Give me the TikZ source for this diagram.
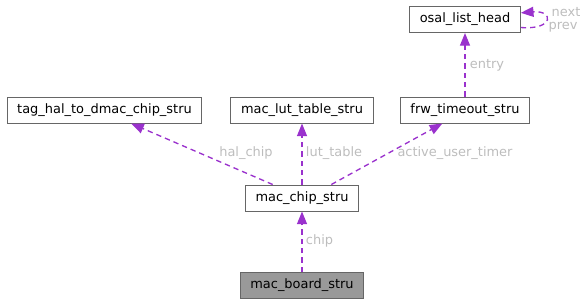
\documentclass[tikz,border=0pt]{standalone}
\usepackage{fontspec}
\setmainfont{DejaVu Sans}
\usetikzlibrary{arrows.meta}

\definecolor{edgepurple}{HTML}{9A32CD}
\definecolor{boxline}{HTML}{666666}
\definecolor{labelgray}{HTML}{BDBDBD}

\tikzset{
  structbox/.style={draw=boxline, line width=0.75pt, fill=white, inner xsep=7.6pt,
    minimum height=19.5pt, font=\fontsize{9.7pt}{11pt}\selectfont},
  edge/.style={edgepurple, line width=1pt, dash pattern=on 4pt off 3pt,
    -{Triangle[length=9.5pt,width=7.5pt]}},
  edgelabel/.style={labelgray, font=\fontsize{9.7pt}{11pt}\selectfont}
}

\begin{document}
\begin{tikzpicture}[x=0.75pt, y=-0.75pt]
  \useasboundingbox (0,0) rectangle (586,304);

  % Structures.
  \node[structbox] (osal) at (465,19.5) {osal\_list\_head};
  \node[structbox] (halchip) at (104.5,110) {tag\_hal\_to\_dmac\_chip\_stru};
  \node[structbox] (luttable) at (302,110) {mac\_lut\_table\_stru};
  \node[structbox] (timeout) at (465,110) {frw\_timeout\_stru};
  \node[structbox] (chip) at (302,198) {mac\_chip\_stru};
  \node[structbox, fill=black!40] (board) at (302,285.5) {mac\_board\_stru};

  % Members.
  \draw[edge] (board) -- (chip);
  \draw[edge] ([xshift=-22pt]chip.north) -- ([xshift=20pt]halchip.south);
  \draw[edge] (chip.north) -- (luttable.south);
  \draw[edge] ([xshift=22pt]chip.north) -- ([xshift=-17pt]timeout.south);
  \draw[edge] (timeout) -- (osal);
  \draw[edge] ([yshift=-6pt]osal.east) .. controls +(25pt,-2pt) and +(25pt,2pt) .. ([yshift=5pt]osal.east);

  % Labels.
  \node[edgelabel] (lchip) at (319.5,241) {chip};
  \node[edgelabel] (lhal) at (246,153) {hal\_chip};
  \node[edgelabel] (llut) at (334,153) {lut\_table};
  \node[edgelabel] (ltimer) at (455,153) {active\_user\_timer};
  \node[edgelabel] (lentry) at (487,65) {entry};
  \node[edgelabel] (lnext) at (566,12) {next};
  \node[edgelabel] (lprev) at (563,27) {prev};
\end{tikzpicture}
\end{document}
